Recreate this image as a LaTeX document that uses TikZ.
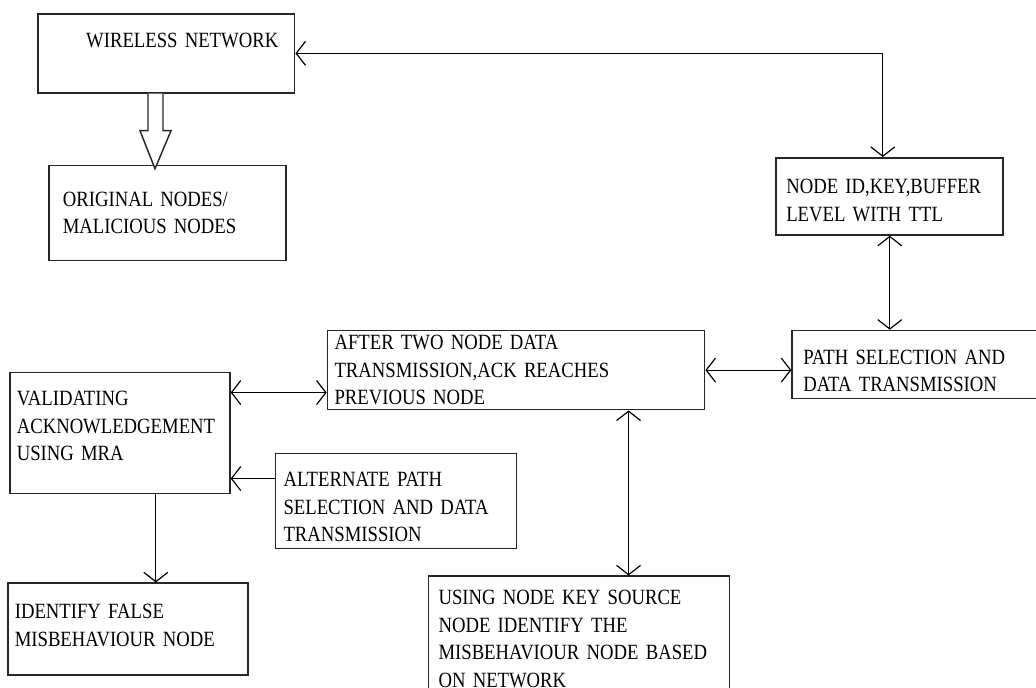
\documentclass[tikz,border=0pt]{standalone}
\usepackage{fontspec}
\setmainfont{Liberation Serif}[FakeStretch=0.86]
\usetikzlibrary{arrows.meta,positioning}
\newcommand{\labelfont}{\fontsize{16.3pt}{20.6pt}\selectfont}

\begin{document}
\begin{tikzpicture}[
    x=0.75pt, y=-0.75pt,
    box/.style={draw=black!85, line width=1.3pt, rectangle, anchor=north west, align=left, inner xsep=5.25pt, inner ysep=2pt, font=\labelfont},
    pointer/.style={line width=0.9pt, >={Straight Barb[length=7pt,width=18pt]}},
    hollow/.style={draw=black!85, line width=1.1pt, fill=white}
]
    \useasboundingbox (0,0) rectangle (1036,688);
    \clip (0,0) rectangle (1036,688);

    % Network
    \node[box, minimum width=192pt, minimum height=59.25pt, text width=182pt, text depth=19pt] (wireless) at (37,13) {\hspace*{31pt}WIRELESS NETWORK};
    \node[box, below right=53.25pt and 8.25pt of wireless.south west, minimum width=177.75pt, minimum height=71.25pt, inner xsep=10.5pt, text width=156.75pt] (orig) {ORIGINAL NODES/\\MALICIOUS NODES};

    % Right column
    \node[box, below right=108pt and 360pt of wireless.north east, minimum width=170.25pt, minimum height=57.75pt, inner xsep=7.5pt, text width=155.25pt] (nodeid) {\rule{0pt}{17pt}NODE ID,KEY,BUFFER\\LEVEL WITH TTL};
    \node[box, below right=70.5pt and 12pt of nodeid.south west, minimum width=195.75pt, minimum height=51pt, inner xsep=8.25pt, text width=179.25pt] (path) {\rule{0pt}{20pt}PATH SELECTION AND\\DATA TRANSMISSION};

    % Middle row
    \node[box, below left=0pt and 64.5pt of path.north west, minimum width=282.75pt, minimum height=59.25pt, text width=272.25pt] (after) {AFTER TWO NODE DATA\\TRANSMISSION,ACK REACHES\\PREVIOUS NODE};
    \node[box, below left=31.5pt and 72pt of after.north west, minimum width=165pt, minimum height=90.75pt, text width=154.5pt] (valid) {VALIDATING\\ACKNOWLEDGEMENT\\USING MRA\rule[-10.5pt]{0pt}{10.5pt}};
    \node[box, below right=60.75pt and 33pt of valid.north east, minimum width=180.75pt, minimum height=71.25pt, inner xsep=6pt, text width=168.75pt] (alt) {\rule{0pt}{20pt}ALTERNATE PATH\\SELECTION AND DATA\\TRANSMISSION};

    % Bottom row
    \node[box, below right=66pt and -1.5pt of valid.south west, minimum width=180pt, minimum height=69pt, text width=169.5pt] (ident) {IDENTIFY FALSE\\MISBEHAVIOUR NODE\rule[-6pt]{0pt}{6pt}};
    \node[box, below right=123.75pt and 75.75pt of after.south west, minimum width=225.75pt, minimum height=93.75pt, inner xsep=7.5pt, text width=210.75pt] (using) {USING NODE KEY SOURCE\\NODE IDENTIFY THE\\MISBEHAVIOUR NODE BASED\\ON NETWORK};

    % Hollow arrow
    \draw[hollow] ([xshift=83.25pt]wireless.south west) -- ++(0,37) -- ++(-8,0) -- ++(15,38) -- ++(16,-38) -- ++(-8,0) -- ++(0,-37);

    % Links
    \draw[pointer, <->] (wireless.east) -| ([xshift=-5.25pt]nodeid.north);
    \draw[pointer, <->] (nodeid.south) -- (nodeid.south |- path.north);
    \draw[pointer, <->] (after.east) -- (after.east -| path.west);

    \coordinate (vtop) at ([yshift=30.4pt]valid.east);
    \draw[pointer, <->] (vtop) -- (vtop -| after.west);
    \coordinate (atop) at ([yshift=16.9pt]alt.west);
    \draw[pointer, ->] (atop) -- (atop -| valid.east);
    \coordinate (vbot) at ([xshift=27pt]valid.south);
    \draw[pointer, ->] (vbot) -- (vbot |- ident.north);
    \coordinate (abot) at ([xshift=84.4pt]after.south);
    \draw[pointer, <->] (abot) -- (abot |- using.north);
\end{tikzpicture}
\end{document}
